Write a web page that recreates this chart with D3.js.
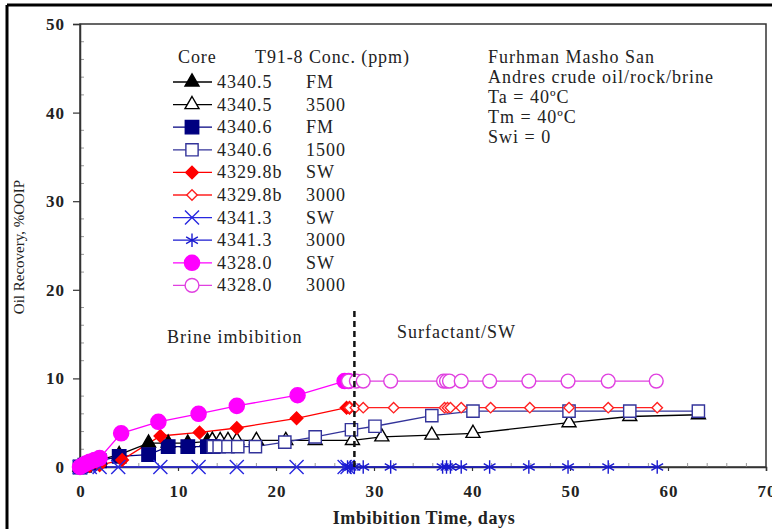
<!DOCTYPE html>
<html>
<head>
<meta charset="utf-8">
<script src="https://cdn.jsdelivr.net/npm/d3@7"></script>
<style>
  body { margin: 0; background: #fff; }
  svg text { font-family: "Liberation Serif", "Times New Roman", serif; fill: #222; }
</style>
</head>
<body>
<div id="chart"></div>
<script>
// values
const t1 = [0, 0.5, 1, 2, 4, 7, 9, 11, 13, 13.5];
const v1 = [0, 0.2, 0.4, 0.8, 1.4, 2.7, 2.7, 2.7, 2.9, 3.0];
const t2 = [13.5, 14.3, 15.1, 16, 18, 21, 24, 27.8, 30.8, 35.9, 40.1, 49.9, 56.1, 63.1];
const v2 = [3.0, 3.0, 3.0, 3.0, 3.0, 3.0, 3.0, 3.0, 3.4, 3.6, 3.8, 5.0, 5.7, 5.9];
const t3 = [0, 0.5, 1, 2, 4, 7, 9, 11, 13, 13.6];
const v3 = [0, 0.2, 0.4, 0.7, 1.2, 1.4, 2.3, 2.3, 2.3, 2.3];
const t4 = [13.6, 14.2, 15.1, 16.1, 17.9, 20.9, 24, 27.7, 30.1, 35.9, 40.1, 49.9, 56.1, 63.1];
const v4 = [2.3, 2.3, 2.3, 2.3, 2.3, 2.8, 3.4, 4.2, 4.6, 5.8, 6.3, 6.3, 6.3, 6.3];
const t5 = [0, 1, 2, 4.3, 8.2, 12.2, 16, 22.1, 27.2, 27.5];
const v5 = [0, 0.1, 0.2, 0.8, 3.5, 3.9, 4.4, 5.5, 6.7, 6.7];
const t6 = [27.5, 28.1, 28.9, 32, 37.2, 37.5, 37.8, 38.9, 41.9, 45.9, 49.9, 53.9, 58.9];
const v6 = [6.7, 6.7, 6.7, 6.7, 6.7, 6.7, 6.7, 6.7, 6.7, 6.7, 6.7, 6.7, 6.7];
const t7 = [0, 1, 2, 3.9, 8.2, 12.1, 16, 22.1, 27, 27.3];
const v7 = [0, 0, 0, 0, 0, 0, 0, 0, 0, 0];
const t8 = [27.3, 27.6, 28, 28.9, 31.7, 37, 37.4, 37.8, 38.9, 41.8, 45.8, 49.8, 53.9, 58.9];
const v8 = [0, 0, 0, 0, 0, 0, 0, 0, 0, 0, 0, 0, 0, 0];
const t9 = [0, 0.3, 0.6, 1, 1.5, 2, 4.2, 8, 12.1, 16, 22.2, 27, 27.4];
const v9 = [0, 0.2, 0.4, 0.6, 0.8, 1.0, 3.8, 5.1, 6.0, 6.9, 8.1, 9.7, 9.7];
const t10 = [27.4, 28.2, 28.9, 31.7, 37.1, 37.4, 37.7, 38.9, 41.8, 45.8, 49.8, 53.9, 58.8];
const v10 = [9.7, 9.7, 9.7, 9.7, 9.7, 9.7, 9.7, 9.7, 9.7, 9.7, 9.7, 9.7, 9.7];

const cores = ["4340.5", "4340.5", "4340.6", "4340.6", "4329.8b", "4329.8b", "4341.3", "4341.3", "4328.0", "4328.0"];
const concs = ["FM", "3500", "FM", "1500", "SW", "3000", "SW", "3000", "SW", "3000"];
const xTicks = [0, 10, 20, 30, 40, 50, 60, 70];
const yTicks = [0, 10, 20, 30, 40, 50];
const notes = ["Furhman Masho San", "Andres crude oil/rock/brine", "Ta = 40\u00BAC", "Tm = 40\u00BAC", "Swi = 0"];
const switchDay = 28;

const width = 772, height = 529;
const x = d3.scaleLinear().domain([0, 70]).range([80, 766]);
const y = d3.scaleLinear().domain([0, 50]).range([467, 24]);

const svg = d3.select("#chart").append("svg")
  .attr("width", width).attr("height", height);

// outer frame (top & left edge of the scanned figure)
svg.append("line").attr("x1", 7).attr("x2", width).attr("y1", 5).attr("y2", 5)
  .attr("stroke", "#000").attr("stroke-width", 3);
svg.append("line").attr("x1", 7).attr("x2", 7).attr("y1", 5).attr("y2", height)
  .attr("stroke", "#000").attr("stroke-width", 3);

// plot frame
svg.append("rect")
  .attr("x", x(0)).attr("y", y(50))
  .attr("width", x(70) - x(0)).attr("height", y(0) - y(50))
  .attr("fill", "none").attr("stroke", "#333").attr("stroke-width", 1.5);

// minor ticks inside
const minorY = d3.range(0, 51, 2).filter(d => d % 10 !== 0);
svg.selectAll(".my").data(minorY).enter().append("line")
  .attr("x1", x(0)).attr("x2", x(0) + 4)
  .attr("y1", d => y(d)).attr("y2", d => y(d))
  .attr("stroke", "#999").attr("stroke-width", 1);
const minorX = d3.range(0, 71, 2).filter(d => d % 10 !== 0);
svg.selectAll(".mx").data(minorX).enter().append("line")
  .attr("x1", d => x(d)).attr("x2", d => x(d))
  .attr("y1", y(0)).attr("y2", y(0) - 4)
  .attr("stroke", "#999").attr("stroke-width", 1);

// axes
const xAxis = svg.append("g").attr("transform", `translate(0,${y(0)})`)
  .call(d3.axisBottom(x).tickValues(xTicks).tickSize(4).tickPadding(14));
const yAxis = svg.append("g").attr("transform", `translate(${x(0)},0)`)
  .call(d3.axisLeft(y).tickValues(yTicks).tickSize(7).tickPadding(8));
[xAxis, yAxis].forEach(a => {
  a.select(".domain").attr("stroke", "#333").attr("stroke-width", 1.5);
  a.selectAll(".tick line").attr("stroke", "#333").attr("stroke-width", 1.2);
  a.selectAll("text").attr("font-size", 17).attr("font-weight", "bold")
    .attr("letter-spacing", 1)
    .attr("font-family", "Liberation Serif, serif").attr("fill", "#222");
});
xAxis.selectAll("text").attr("dx", 0.5);

// axis titles
svg.append("text").attr("x", 424).attr("y", 524).attr("text-anchor", "middle")
  .attr("font-size", 18).attr("font-weight", "bold").attr("letter-spacing", 0.6)
  .text("Imbibition Time, days");
svg.append("text").attr("transform", "translate(24,247) rotate(-90)")
  .attr("text-anchor", "middle").attr("font-size", 15).text("Oil Recovery, %OOIP");

// series definitions
const series = [
  { t: t1, v: v1, color: "#000", sym: d3.symbolTriangle, size: 85, fill: "#000" },
  { t: t2, v: v2, color: "#000", sym: d3.symbolTriangle, size: 85, fill: "#fff" },
  { t: t3, v: v3, color: "#000080", sym: d3.symbolSquare, size: 180, fill: "#000080" },
  { t: t4, v: v4, color: "#33339a", sym: d3.symbolSquare, size: 150, fill: "#fff" },
  { t: t5, v: v5, color: "#ff0000", sym: d3.symbolDiamond2, size: 100, fill: "#ff0000" },
  { t: t6, v: v6, color: "#ff2020", sym: d3.symbolDiamond2, size: 70, fill: "#fff" },
  { t: t7, v: v7, color: "#2828e0", sym: d3.symbolTimes, size: 130, fill: "none" },
  { t: t8, v: v8, color: "#1a1ad0", sym: d3.symbolAsterisk, size: 130, fill: "none" },
  { t: t9, v: v9, color: "#ff00ff", sym: d3.symbolCircle, size: 180, fill: "#ff00ff" },
  { t: t10, v: v10, color: "#e040e0", sym: d3.symbolCircle, size: 150, fill: "#fff" }
];

const line = d3.line().x(d => x(d[0])).y(d => y(d[1]));

series.forEach(s => {
  const pts = d3.zip(s.t, s.v);
  svg.append("path").datum(pts).attr("d", line)
    .attr("fill", "none").attr("stroke", s.color).attr("stroke-width", 1.3);
});
series.forEach(s => {
  const pts = d3.zip(s.t, s.v);
  svg.append("g").selectAll("path").data(pts).enter().append("path")
    .attr("d", d3.symbol().type(s.sym).size(s.size))
    .attr("transform", d => `translate(${x(d[0])},${y(d[1])})`)
    .attr("fill", s.fill).attr("stroke", s.color).attr("stroke-width", 1.4);
});

// surfactant switch line
svg.append("line").attr("x1", x(switchDay)).attr("x2", x(switchDay))
  .attr("y1", y(0)).attr("y2", y(17.8))
  .attr("stroke", "#111").attr("stroke-width", 2.5).attr("stroke-dasharray", "6,4");

svg.append("text").attr("x", 167).attr("y", 343).attr("font-size", 18)
  .attr("letter-spacing", 1).text("Brine imbibition");
svg.append("text").attr("x", 397).attr("y", 338).attr("font-size", 18)
  .attr("letter-spacing", 1).text("Surfactant/SW");

// legend
const lg = svg.append("g");
lg.append("text").attr("x", 178).attr("y", 63).attr("font-size", 18)
  .attr("letter-spacing", 0.9).text("Core");
lg.append("text").attr("x", 255).attr("y", 63).attr("font-size", 18)
  .attr("letter-spacing", 0.9).text("T91-8 Conc. (ppm)");
series.forEach((s, i) => {
  const cy = 82 + i * 22.6;
  lg.append("line").attr("x1", 173).attr("x2", 212).attr("y1", cy).attr("y2", cy)
    .attr("stroke", s.color).attr("stroke-width", 1.3);
  lg.append("path").attr("d", d3.symbol().type(s.sym).size(s.size)())
    .attr("transform", `translate(192,${cy})`)
    .attr("fill", s.fill).attr("stroke", s.color).attr("stroke-width", 1.4);
  lg.append("text").attr("x", 217).attr("y", cy + 6).attr("font-size", 18)
    .attr("letter-spacing", 1).text(cores[i]);
  lg.append("text").attr("x", 306).attr("y", cy + 6).attr("font-size", 18)
    .attr("letter-spacing", 1).text(concs[i]);
});

// conditions note
svg.append("g").selectAll("text").data(notes).enter().append("text")
  .attr("x", 488).attr("y", (d, i) => 63 + i * 20)
  .attr("font-size", 18).attr("letter-spacing", 1).text(d => d);
</script>
</body>
</html>
